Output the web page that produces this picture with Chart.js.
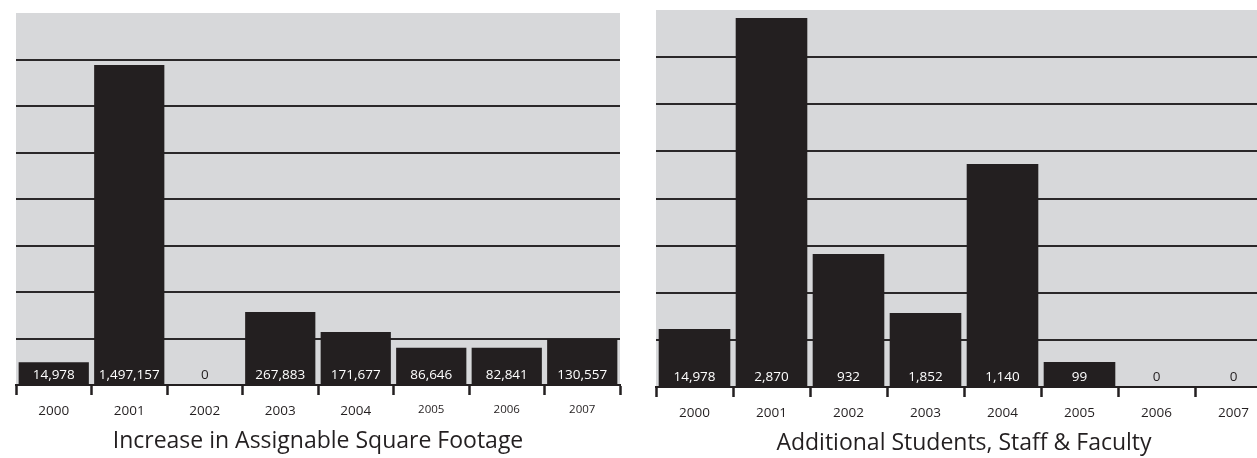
<!DOCTYPE html>
<html>
<head>
<meta charset="utf-8">
<script src="https://cdn.jsdelivr.net/npm/chart.js@4/dist/chart.umd.min.js"></script>
<style>
  html, body { margin: 0; padding: 0; background: #ffffff; overflow: hidden; width: 1257px; height: 458px; }
  #left { position: absolute; left: 0; top: 0; }
  #right { position: absolute; left: 640px; top: 0; }
</style>
</head>
<body>
<canvas id="left" width="640" height="458"></canvas>
<canvas id="right" width="640" height="458"></canvas>
<script>
// ---- data ----
const years = ['2000', '2001', '2002', '2003', '2004', '2005', '2006', '2007'];

// bar heights in grid units (one unit = one horizontal rule)
const sqftHeights = [0.49, 6.88, 0, 1.57, 1.14, 0.80, 0.80, 0.99];
const sqftLabels = ['14,978', '1,497,157', '0', '267,883', '171,677', '86,646', '82,841', '130,557'];
const sqftTitle = 'Increase in Assignable Square Footage';

const peopleHeights = [1.23, 7.83, 2.82, 1.57, 4.73, 0.53, 0, 0];
const peopleLabels = ['14,978', '2,870', '932', '1,852', '1,140', '99', '0', '0'];
const peopleTitle = 'Additional Students, Staff & Faculty';

const gridMax = 8;

// ---- styling ----
const INK = '#231f20';
const PANEL = '#d7d8da';
const FONT = "'Open Sans', sans-serif";

const panelBg = {
  id: 'panelBg',
  beforeDraw(chart) {
    const a = chart.chartArea, c = chart.ctx;
    c.save();
    c.fillStyle = PANEL;
    c.fillRect(a.left, a.top, a.right - a.left, a.bottom - a.top);
    c.restore();
  }
};

const barText = {
  id: 'barText',
  afterDatasetsDraw(chart, args, opts) {
    const c = chart.ctx;
    const meta = chart.getDatasetMeta(0);
    const base = chart.scales.y.getPixelForValue(0);
    c.save();
    c.font = '13.5px ' + FONT;
    c.textAlign = 'center';
    c.textBaseline = 'middle';
    meta.data.forEach((el, i) => {
      const v = chart.data.datasets[0].data[i];
      c.fillStyle = v > 0 ? '#ffffff' : INK;
      c.fillText(opts.labels[i], el.x, base - 10);
    });
    c.restore();
  }
};

function makeChart(id, heights, labels, title, pad, yearFont) {
  return new Chart(document.getElementById(id), {
    type: 'bar',
    data: {
      labels: years,
      datasets: [{
        data: heights,
        backgroundColor: INK,
        borderWidth: 0,
        barPercentage: 0.93,
        categoryPercentage: 1.0
      }]
    },
    options: {
      responsive: false,
      animation: false,
      layout: { padding: { left: pad.left, right: pad.right, top: pad.top, bottom: 0 } },
      plugins: {
        legend: { display: false },
        tooltip: { enabled: false },
        title: {
          display: true,
          position: 'bottom',
          text: title,
          color: INK,
          font: { family: FONT, size: 23, weight: 'normal', lineHeight: 1.2 },
          padding: { top: pad.titleTop, bottom: pad.titleBottom }
        },
        barText: { labels: labels }
      },
      scales: {
        x: {
          afterFit(s) { s.height = 40; },
          border: { display: true, color: INK, width: 2 },
          grid: {
            display: true,
            offset: true,
            drawOnChartArea: false,
            drawTicks: true,
            tickLength: 10,
            tickColor: INK,
            tickWidth: 2.5,
            color: INK
          },
          ticks: {
            color: INK,
            padding: 8,
            font: yearFont
          }
        },
        y: {
          min: 0,
          max: gridMax,
          afterFit(s) { s.width = 0; },
          border: { display: false },
          ticks: { display: false, stepSize: 1 },
          grid: {
            drawTicks: false,
            lineWidth: 2,
            color: (ctx) => (ctx.tick && (ctx.tick.value === gridMax || ctx.tick.value === 0)) ? 'rgba(0,0,0,0)' : '#2a2829'
          }
        }
      }
    },
    plugins: [panelBg, barText]
  });
}

makeChart('left', sqftHeights, sqftLabels, sqftTitle,
  { left: 16, right: 20, top: 13, titleTop: 3, titleBottom: 2.4 },
  (ctx) => ({ family: FONT, size: ctx.index >= 5 ? 11.5 : 13.5 }));

makeChart('right', peopleHeights, peopleLabels, peopleTitle,
  { left: 16, right: 8, top: 10, titleTop: 3, titleBottom: 0.4 },
  { family: FONT, size: 13.5 });
</script>
</body>
</html>
